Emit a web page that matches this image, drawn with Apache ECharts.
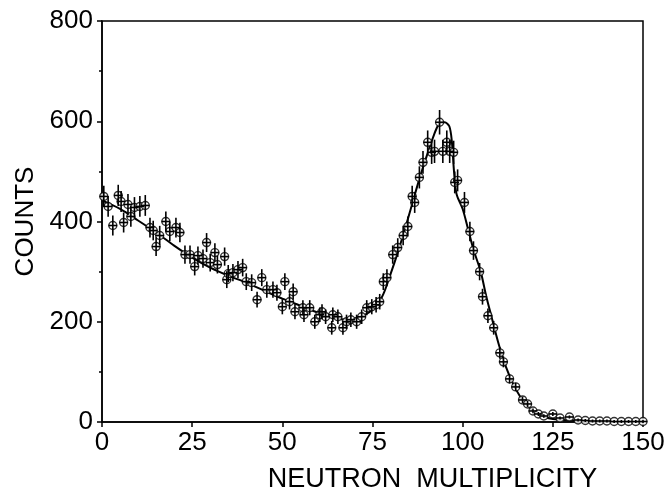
<!DOCTYPE html>
<html><head><meta charset="utf-8">
<script src="https://cdn.jsdelivr.net/npm/echarts@6/dist/echarts.min.js"></script>
<style>html,body{margin:0;padding:0;background:#fff}#c{width:669px;height:498px}</style>
</head><body><div id="c"></div>
<script>
// Data points (neutron multiplicity, counts)
var pointX = [0.5,1.7,3,4.5,5.3,6,7.2,8,9,10.5,12,13.3,14.2,15,16,17.7,18.8,20.5,21.6,23,24.4,25.7,26.6,28,29,30,31.3,32,34,34.6,35,36.3,37.7,39,40,41.5,43,44.3,45.7,47.4,48.5,50,50.7,52,53,53.5,55.7,56,57.6,59,60.4,61,62,63.7,64,65.4,66.8,67.8,69,70.6,72,73.4,74.8,76,77,78,79,80.6,82,83.5,84.8,86,86.7,88,89,90.3,91.4,92.2,93.6,94.5,95.6,96.4,97.5,97.8,98.6,100.5,102,103,104.7,105.5,107,108.6,110.3,111.3,113,114.7,116.6,118,119.5,121,122.5,125,127,129.6,132,134,136,138,140,142,144,146,148,150];
var pointY = [450,430,392,452,440,398,434,410,428,430,432,388,382,350,372,400,380,388,378,334,334,310,332,326,358,318,338,314,330,284,296,298,304,308,280,278,244,288,264,264,258,230,280,240,260,220,228,214,228,200,214,220,210,188,214,210,188,200,204,200,210,228,230,234,240,280,288,334,348,372,390,450,438,488,518,558,538,540,598,540,558,540,538,478,482,438,380,342,300,250,212,188,138,120,86,70,44,36,22,16,12,16,8,10,4,3,2,2,2,1,1,1,1,1];
// Fitted curve
var curveX = [0,5,10,15,20,25,30,35,40,45,50,55,60,65,68,70,73,76,78,80,82,84,86,88,90,92,93.5,95,96.3,97,97.6,98.3,100,101.5,103,105,106.5,108,110,112,114,116,118,120,122,125,130,135,150];
var curveY = [442,425,402,378,352,328,308,292,278,262,246,232,218,207,204,206,214,230,255,295,338,385,435,485,530,572,595,598,590,560,500,455,425,385,344,300,252,210,155,110,76,50,32,20,12,6,3,1,0];
var xTicks = [0,25,50,75,100,125,150];
var yTicks = [0,200,400,600,800];

var pts = pointX.map(function(x,i){return [x,pointY[i]];});
var curve = curveX.map(function(x,i){return [x,curveY[i]];});

var chart = echarts.init(document.getElementById('c'));
var font = 'Liberation Sans, Arial, sans-serif';
chart.setOption({
  animation:false,
  grid:{left:102,right:26,top:21,bottom:76,show:true,borderColor:'#000',borderWidth:1.5,backgroundColor:'transparent'},
  xAxis:{type:'value',min:xTicks[0],max:xTicks[xTicks.length-1],interval:25,
    axisLine:{show:true,lineStyle:{color:'#000',width:1.5}},
    axisTick:{show:true,inside:false,length:5,lineStyle:{color:'#000',width:1.5}},
    splitLine:{show:false},
    axisLabel:{color:'#000',fontSize:26,fontFamily:font,margin:8},
    name:'NEUTRON  MULTIPLICITY',nameLocation:'middle',nameGap:44,
    nameTextStyle:{color:'#000',fontSize:27,fontFamily:font,padding:[0,0,0,120]}},
  yAxis:{type:'value',min:yTicks[0],max:yTicks[yTicks.length-1],interval:200,
    axisLine:{show:true,lineStyle:{color:'#000',width:1.5}},
    axisTick:{show:true,inside:false,length:5,lineStyle:{color:'#000',width:1.5}},
    minorTick:{show:true,splitNumber:2,length:3,lineStyle:{color:'#000',width:1.5}},
    splitLine:{show:false},
    axisLabel:{color:'#000',fontSize:26,fontFamily:font,margin:9},
    name:'COUNTS',nameLocation:'middle',nameGap:62,
    nameTextStyle:{color:'#000',fontSize:26,fontFamily:font}},
  series:[
    {type:'line',data:curve,smooth:0.3,symbol:'none',lineStyle:{color:'#000',width:2},z:3},
    {type:'scatter',data:pts,symbol:'circle',symbolSize:8,z:4,
      itemStyle:{color:'#fff',borderColor:'#000',borderWidth:1.4}},
    {type:'custom',data:pts,z:5,
      renderItem:function(params,api){
        var x=api.value(0),y=api.value(1);
        var e=Math.max(Math.sqrt(y),3);
        var p0=api.coord([x,y-e]),p1=api.coord([x,y+e]);
        var q0=api.coord([x-1.2,y]),q1=api.coord([x+1.2,y]);
        return {type:'group',children:[
          {type:'line',shape:{x1:p0[0],y1:p0[1],x2:p1[0],y2:p1[1]},style:{stroke:'#000',lineWidth:1.6}},
          {type:'line',shape:{x1:q0[0],y1:q0[1],x2:q1[0],y2:q1[1]},style:{stroke:'#000',lineWidth:1.6}}
        ]};
      }}
  ]
});
</script></body></html>
